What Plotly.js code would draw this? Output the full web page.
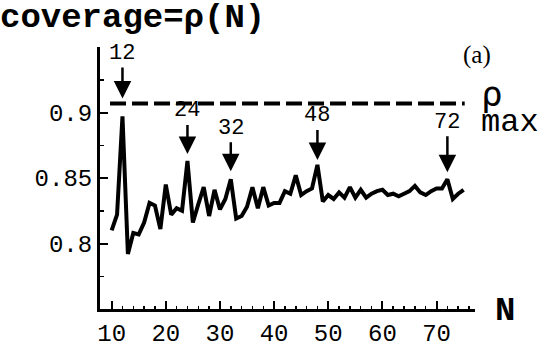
<!DOCTYPE html>
<html>
<head>
<meta charset="utf-8">
<script src="https://cdn.plot.ly/plotly-3.0.1.min.js"></script>
<style>
html,body{margin:0;padding:0;background:#fff;}
#chart{width:559px;height:352px;}
</style>
</head>
<body>
<div id="chart"></div>
<script>
// ---- data ----
var nValues = [10,11,12,13,14,15,16,17,18,19,20,21,22,23,24,25,26,27,28,29,30,31,32,33,34,35,36,37,38,39,40,41,42,43,44,45,46,47,48,49,50,51,52,53,54,55,56,57,58,59,60,61,62,63,64,65,66,67,68,69,70,71,72,73,74,75];
var coverage = [0.810,0.822,0.897,0.792,0.808,0.807,0.816,0.831,0.829,0.811,
                0.845,0.822,0.827,0.825,0.863,0.816,0.830,0.843,0.821,0.841,
                0.826,0.834,0.849,0.819,0.821,0.828,0.843,0.827,0.843,0.829,
                0.831,0.831,0.840,0.838,0.852,0.837,0.840,0.842,0.860,0.832,
                0.837,0.834,0.839,0.835,0.843,0.835,0.841,0.835,0.838,0.840,
                0.841,0.837,0.838,0.836,0.838,0.840,0.844,0.839,0.837,0.840,
                0.842,0.842,0.849,0.834,0.838,0.841];
var rhoMax = 0.9069;
var markedN = [12,24,32,48,72];
var yTickVals = [0.8,0.85,0.9];
var yTickText = ['0.8','0.85','0.9'];
var xTickVals = [10,20,30,40,50,60,70];

// ---- styling of arrow labels (pixel offsets, standoff) ----
var arrowStyle = {12:{ay:-63,so:18}, 24:{ay:-50,so:7}, 32:{ay:-51,so:8}, 48:{ay:-49,so:5}, 72:{ay:-57,so:7}};

var mono = 'Liberation Mono, Courier New, monospace';

var traces = [
  {x: nValues, y: coverage, mode: 'lines', line: {color: '#000', width: 4}, hoverinfo: 'skip'},
  {x: [nValues[0] - 0.3, nValues[nValues.length-1] + 0.2], y: [rhoMax, rhoMax], mode: 'lines',
   line: {color: '#000', width: 4, dash: '16px,6px'}, hoverinfo: 'skip'}
];

var annotations = markedN.map(function(n){
  var v = coverage[nValues.indexOf(n)];
  return {x: n, y: v, xref: 'x', yref: 'y', text: String(n), showarrow: true,
          ax: 0, ay: arrowStyle[n].ay, standoff: arrowStyle[n].so,
          arrowhead: 2, arrowsize: 1.4, arrowwidth: 2.5, arrowcolor: '#000',
          font: {family: mono, size: 22, color: '#000'}};
});
annotations.push({xref: 'paper', yref: 'y', x: 1.01, y: rhoMax, xanchor: 'left', yanchor: 'middle', align: 'left',
  text: '<span style="font-size:36px;font-family:DejaVu Sans Mono">ρ</span><br><span style="font-size:32px">max</span>',
  showarrow: false, yshift: -4, font: {family: mono, size: 19, color: '#000'}});
annotations.push({xref: 'paper', yref: 'paper', x: 1.048, y: 0.969, xanchor: 'right', yanchor: 'middle',
  text: '(a)', showarrow: false, font: {family: 'Liberation Serif, Times New Roman, serif', size: 25, color: '#000'}});
annotations.push({xref: 'paper', yref: 'paper', x: 1.047, y: 0, xanchor: 'left', yanchor: 'middle',
  text: '<b>N</b>', showarrow: false, yshift: -2, font: {family: mono, size: 34, color: '#000'}});

var layout = {
  width: 559, height: 352,
  margin: {l: 100, r: 84, t: 47, b: 43},
  paper_bgcolor: '#fff', plot_bgcolor: '#fff',
  showlegend: false,
  title: {text: '<b>coverage=ρ(N)</b>', x: 0, xref: 'container', xanchor: 'left',
          y: 1, yref: 'container', yanchor: 'top', pad: {t: 3, l: 0},
          font: {family: mono, size: 34, color: '#000'}},
  xaxis: {range: [7.85, 77.1], tickvals: xTickVals, ticks: 'inside', ticklen: 8, tickwidth: 2,
          tickcolor: '#000', showline: true, linewidth: 3, linecolor: '#000', showgrid: false, zeroline: false,
          minor: {ticks: 'inside', ticklen: 3, tickwidth: 1.5, dtick: 2, tick0: 0, tickcolor: '#000', showgrid: false},
          tickfont: {family: mono, size: 24, color: '#000'}},
  yaxis: {range: [0.75, 0.95], tickvals: yTickVals, ticktext: yTickText, ticks: 'inside', ticklen: 8, tickwidth: 2,
          tickcolor: '#000', showline: true, linewidth: 3, linecolor: '#000', showgrid: false, zeroline: false,
          minor: {ticks: 'inside', ticklen: 4, tickwidth: 1.5, dtick: 0.025, tick0: 0.75, tickcolor: '#000', showgrid: false},
          tickfont: {family: mono, size: 24, color: '#000'}},
  annotations: annotations
};

Plotly.newPlot('chart', traces, layout, {staticPlot: true, displayModeBar: false});
</script>
</body>
</html>
